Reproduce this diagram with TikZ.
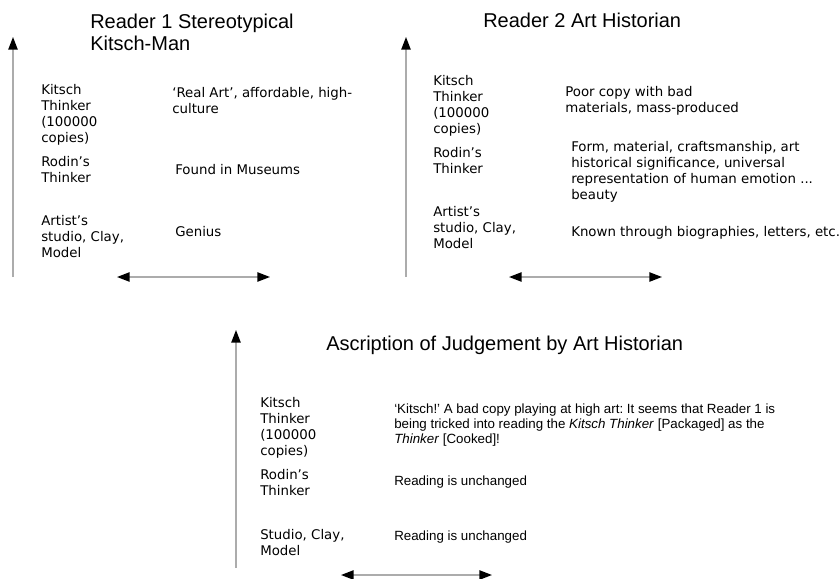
\documentclass[tikz,border=0pt]{standalone}
\usepackage{fontspec}
\setmainfont{DejaVu Sans}
\newfontfamily\arialfont{Liberation Sans}
\usetikzlibrary{positioning,arrows.meta}
\frenchspacing

\begin{document}
\begin{tikzpicture}[
    x=0.75pt, y=-0.75pt,
    panel title/.style={anchor=west, align=left, inner sep=0pt, font=\arialfont\fontsize{15}{16.5}\selectfont},
    level label/.style={anchor=west, align=left, inner sep=0pt, font=\fontsize{10}{12}\selectfont},
    reading note/.style={anchor=west, align=left, inner sep=0pt, font=\fontsize{10}{12}\selectfont},
    verdict note/.style={anchor=west, align=left, inner sep=0pt, font=\arialfont\fontsize{10}{11.3}\selectfont},
    axis line/.style={draw=gray!65, line width=1.1pt, -{Triangle[color=black, length=9.5pt, width=7pt]}},
    spread line/.style={draw=gray!65, line width=1.1pt, {Triangle[color=black, length=9.5pt, width=7pt]}-{Triangle[color=black, length=9.5pt, width=7pt]}}
]
  \useasboundingbox (0,0) rectangle (840,579);

  % Reader 1
  \node[panel title] (titleA) at (90,32) {Reader 1 Stereotypical\\Kitsch-Man};
  \node[level label] (kitschA) at (41,115) {Kitsch\\Thinker\\(100000\\copies)};
  \node[level label] (rodinA) at (41,170) {Rodin’s\\Thinker};
  \node[level label] (studioA) at (41,237) {Artist’s\\studio, Clay,\\Model};
  \node[reading note] (kitschAnote) at (172,101) {‘Real Art’, affordable, high-\\culture};
  \node[reading note] (rodinAnote) at (175,170) {Found in Museums};
  \node[reading note] (studioAnote) at (175,232) {Genius};
  \coordinate (baseA) at (13,277);
  \coordinate (topA) at (13,37);
  \coordinate (leftA) at (117,277);
  \coordinate (rightA) at (270,277);
  \draw[axis line] (baseA) -- (topA);
  \draw[spread line] (leftA) -- (rightA);

  % Reader 2
  \node[panel title] (titleB) at (483,20) {Reader 2 Art Historian};
  \node[level label] (kitschB) at (433,106) {Kitsch\\Thinker\\(100000\\copies)};
  \node[level label] (rodinB) at (433,161) {Rodin’s\\Thinker};
  \node[level label] (studioB) at (433,228) {Artist’s\\studio, Clay,\\Model};
  \node[reading note] (kitschBnote) at (565,101) {Poor copy with bad\\materials, mass-produced};
  \node[reading note] (rodinBnote) at (571,172) {Form, material, craftsmanship, art\\historical significance, universal\\representation of human emotion ...\\beauty};
  \node[reading note] (studioBnote) at (571,233) {Known through biographies, letters, etc.};
  \coordinate (baseB) at (406,277);
  \coordinate (topB) at (406,37);
  \coordinate (leftB) at (509,277);
  \coordinate (rightB) at (662,277);
  \draw[axis line] (baseB) -- (topB);
  \draw[spread line] (leftB) -- (rightB);

  % Ascription
  \node[panel title] (titleC) at (326,345) {Ascription of Judgement by Art Historian};
  \node[level label] (kitschC) at (260,428) {Kitsch\\Thinker\\(100000\\copies)};
  \node[level label] (rodinC) at (260,483) {Rodin’s\\Thinker};
  \node[level label] (studioC) at (260,543) {Studio, Clay,\\Model};
  \node[verdict note] (kitschCnote) at (394,425) {‘Kitsch!’ A bad copy playing at high art: It seems that Reader 1 is\\being tricked into reading the \textit{Kitsch Thinker} [Packaged] as the\\\textit{Thinker} [Cooked]!};
  \node[verdict note] (rodinCnote) at (394,482) {Reading is unchanged};
  \node[verdict note] (studioCnote) at (394,537) {Reading is unchanged};
  \coordinate (baseC) at (236,568);
  \coordinate (topC) at (236,330);
  \coordinate (leftC) at (341,575);
  \coordinate (rightC) at (492,575);
  \draw[axis line] (baseC) -- (topC);
  \draw[spread line] (leftC) -- (rightC);
\end{tikzpicture}
\end{document}
